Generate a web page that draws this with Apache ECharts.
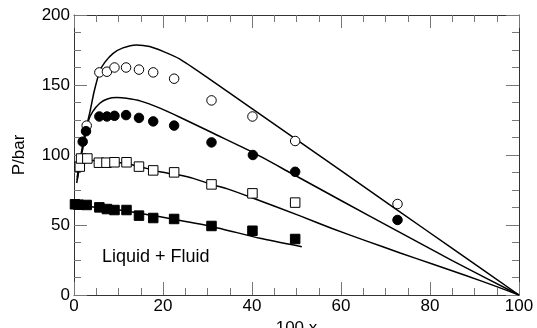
<!DOCTYPE html>
<html>
<head>
<meta charset="utf-8">
<script src="https://cdn.jsdelivr.net/npm/echarts@6/dist/echarts.min.js"></script>
<style>html,body{margin:0;padding:0;background:#fff}#c{width:537px;height:328px}</style>
</head>
<body>
<div id="c"></div>
<script>
// Axis ticks
const xTicks = [0, 20, 40, 60, 80, 100];
const yTicks = [0, 50, 100, 150, 200];
const xName = '100 x';
const yName = 'P/bar';
const regionLabel = 'Liquid + Fluid';

// Experimental points
const openCircleX = [2.85, 5.7, 7.4, 9.1, 11.7, 14.6, 17.8, 22.5, 30.9, 40.1, 49.7, 72.7];
const openCircleY = [121, 159, 159.5, 162.5, 162.5, 161, 159, 154.5, 139, 127.5, 110, 65];

const filledCircleX = [1.95, 2.7, 5.7, 7.4, 9.1, 11.7, 14.6, 17.8, 22.5, 30.9, 40.2, 49.7, 72.7];
const filledCircleY = [109.5, 117, 127.5, 127.5, 128, 128.5, 126.5, 124, 121, 109, 100, 88, 53.6];

const openSquareX = [1.3, 1.6, 3.0, 5.6, 7.3, 9.1, 11.8, 14.6, 17.8, 22.5, 30.9, 40.1, 49.7];
const openSquareY = [91.7, 97.5, 97.5, 94.5, 94.5, 94.8, 94.8, 91.7, 89, 87.6, 79, 72.6, 66];

const filledSquareX = [0.22, 1.0, 2.85, 5.7, 7.4, 9.1, 11.8, 14.6, 17.8, 22.5, 30.9, 40.1, 49.7];
const filledSquareY = [64.8, 64.5, 64.3, 62.6, 61.4, 60.7, 60.7, 56.7, 55, 54.3, 49.3, 45.9, 40];

// Model curves
const curve1X = [0.7, 1.0, 1.5, 2.0, 2.85, 3.6, 4.5, 5.8, 7.0, 8.8, 11.0, 14.0, 17.0, 20.0, 23.8, 30, 40, 50, 60, 72.5, 85, 100];
const curve1Y = [84, 90, 99, 108, 121, 131, 145, 160, 166.5, 172.6, 176.5, 178.6, 177.5, 174, 168.5, 155.3, 133.2, 111, 88.8, 61, 33.3, 0];

const curve2X = [0.7, 1.2, 2.0, 3.2, 4.2, 5.8, 7.5, 9.6, 11.8, 15, 19.3, 23.8, 31.3, 40.1, 48.5, 60, 72.5, 85, 100];
const curve2Y = [82, 92, 105, 124, 131, 137, 140, 141, 140.5, 138.5, 133.5, 127, 115.5, 102, 87.5, 67.5, 46, 24.5, 0];

const curve3X = [0.6, 1.0, 1.4, 2.0, 3.0, 4.3, 8, 11.8, 15, 19.3, 23, 26.8, 30.9, 34.3, 40, 50.8, 58, 65.8, 73.3, 80.7, 88.2, 95, 100];
const curve3Y = [80, 87, 93, 96, 97, 96, 95, 94, 91.5, 88, 86, 83.3, 79, 76, 69.5, 56.5, 47.5, 38.5, 30, 22, 13.8, 6, 0];

const curve4X = [0, 11.8, 22.5, 30.9, 41.8, 51.2];
const curve4Y = [64.5, 60, 54, 49, 40.5, 34.5];

const pairs = (xs, ys) => xs.map((x, i) => [x, ys[i]]);
const FONT = '"Liberation Sans", Arial, Helvetica, sans-serif';

const chart = echarts.init(document.getElementById('c'), null, {renderer: 'canvas'});

function xAxisCfg(pos, showLabel) {
  return {
    type: 'value', position: pos,
    min: xTicks[0], max: xTicks[xTicks.length - 1], interval: xTicks[1] - xTicks[0],
    name: showLabel ? xName : '', nameLocation: 'middle', nameGap: 21,
    nameTextStyle: {color: '#000', fontSize: 17, fontFamily: FONT},
    axisLine: {show: true, onZero: false, lineStyle: {color: '#333', width: 1}},
    axisTick: {show: true, inside: true, length: 13, lineStyle: {color: '#777', width: 1}},
    minorTick: {show: true, splitNumber: 4, length: 7, lineStyle: {color: '#777', width: 1}},
    axisLabel: {show: showLabel, color: '#000', fontSize: 17, fontFamily: FONT, margin: 3},
    splitLine: {show: false}
  };
}
function yAxisCfg(pos, showLabel) {
  return {
    type: 'value', position: pos,
    min: yTicks[0], max: yTicks[yTicks.length - 1], interval: yTicks[1] - yTicks[0],
    name: showLabel ? yName : '', nameLocation: 'middle', nameGap: 46, nameRotate: 90,
    nameTextStyle: {color: '#000', fontSize: 17, fontFamily: FONT},
    axisLine: {show: true, onZero: false, lineStyle: {color: '#333', width: 1}},
    axisTick: {show: true, inside: true, length: 13, lineStyle: {color: '#777', width: 1}},
    minorTick: {show: true, splitNumber: 4, length: 7, lineStyle: {color: '#777', width: 1}},
    axisLabel: {show: showLabel, color: '#000', fontSize: 17, fontFamily: FONT, margin: 4},
    splitLine: {show: false}
  };
}

function lineSeries(xs, ys) {
  return {
    type: 'line', data: pairs(xs, ys), showSymbol: false, smooth: 0.2,
    lineStyle: {color: '#000', width: 1.5}, silent: true, z: 2
  };
}
function scatterSeries(xs, ys, symbol, filled) {
  return {
    type: 'scatter', data: pairs(xs, ys), symbol: symbol, symbolSize: 9.5,
    itemStyle: {color: filled ? '#000' : '#fff', borderColor: '#000', borderWidth: 1, opacity: 1},
    silent: true, z: 3
  };
}

chart.setOption({
  animation: false,
  backgroundColor: '#fff',
  grid: {left: 74, right: 18, top: 15, bottom: 33, containLabel: false, outerBoundsMode: 'none'},
  xAxis: [xAxisCfg('bottom', true), xAxisCfg('top', false)],
  yAxis: [yAxisCfg('left', true), yAxisCfg('right', false)],
  graphic: [{
    type: 'text', left: 102, top: 248,
    style: {text: regionLabel, fill: '#000', font: '18px ' + FONT}
  }],
  series: [
    lineSeries(curve1X, curve1Y),
    lineSeries(curve2X, curve2Y),
    lineSeries(curve3X, curve3Y),
    lineSeries(curve4X, curve4Y),
    scatterSeries(openCircleX, openCircleY, 'circle', false),
    scatterSeries(filledCircleX, filledCircleY, 'circle', true),
    scatterSeries(openSquareX, openSquareY, 'rect', false),
    scatterSeries(filledSquareX, filledSquareY, 'rect', true)
  ]
});
</script>
</body>
</html>
